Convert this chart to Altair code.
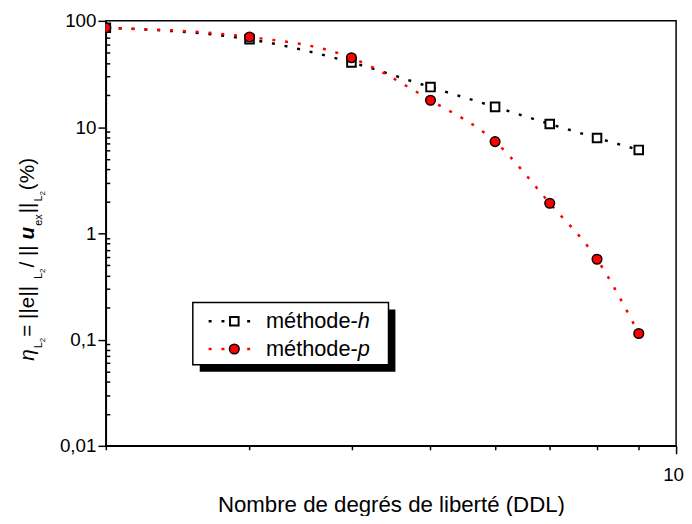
import altair as alt
import pandas as pd

# ---- data ----
ddl = [2, 3, 4, 5, 6, 7, 8, 9]
err_h = [86, 67, 40.6, 23.8, 15.5, 10.7, 7.9, 6.1]
err_p = [86, 70.5, 44.9, 17.9, 7.3, 1.92, 0.57, 0.114]
series = ["méthode-h", "méthode-p"]
x_ticks = [2, 3, 4, 5, 6, 7, 8, 9, 10]
y_major = [0.01, 0.1, 1, 10, 100]
y_minor = [0.02, 0.03, 0.04, 0.05, 0.06, 0.07, 0.08, 0.09,
           0.2, 0.3, 0.4, 0.5, 0.6, 0.7, 0.8, 0.9,
           2, 3, 4, 5, 6, 7, 8, 9,
           20, 30, 40, 50, 60, 70, 80, 90]
x_title = "Nombre de degrés de liberté (DDL)"

df = pd.DataFrame({
    "ddl": ddl * 2,
    "err": err_h + err_p,
    "serie": [series[0]] * len(ddl) + [series[1]] * len(ddl),
})

FONT = "Liberation Sans"
W, H = 577, 430
DASH = [3, 10]

xscale = alt.Scale(type="log", domain=[2, 10], nice=False)
yscale = alt.Scale(type="log", domain=[0.01, 100], nice=False)

xenc = alt.X(
    "ddl:Q", scale=xscale,
    axis=alt.Axis(
        values=x_ticks,
        labelExpr="datum.value == 10 ? '10' : ''",
        tickSize={"condition": {"test": "datum.value == 10", "value": 8}, "value": 4},
        labelFlush=False, labelOverlap=False,
        labelPadding=12, labelOffset=-3,
        title=x_title, titlePadding=9, titleFontSize=22.5,
        grid=False,
    ),
)
# main y axis: decades, outward ticks and labels
y_main = alt.Y(
    "err:Q", scale=yscale,
    axis=alt.Axis(
        orient="left", values=y_major,
        labelExpr="replace(toString(datum.value), '.', ',')",
        tickSize=8, labelOverlap=False, labelFlush=False, labelPadding=2,
        title=None, grid=False,
    ),
)
# second y axis: minor ticks pointing inside the plot
y_minor_ax = alt.Y(
    "err:Q", scale=yscale,
    axis=alt.Axis(
        orient="left", values=y_minor, offset=-4, tickSize=4, labels=False,
        domain=False, title=None, grid=False,
    ),
)
y_none = alt.Y("err:Q", scale=yscale, axis=None)

base = alt.Chart(df)
fh = alt.datum.serie == series[0]
fp = alt.datum.serie == series[1]

line_h = base.transform_filter(fh).mark_line(
    color="black", strokeDash=DASH, strokeWidth=2.5, interpolate="monotone", clip=True
).encode(x=xenc, y=y_main)
line_p = base.transform_filter(fp).mark_line(
    color="#ff0000", strokeDash=DASH, strokeWidth=2.5, interpolate="monotone", clip=True
).encode(x=xenc, y=y_none)
pts_h = base.transform_filter(fh).mark_point(
    shape="square", filled=True, fill="white", stroke="black", strokeWidth=2, size=75,
    opacity=1, clip=True).encode(x=xenc, y=y_none)
pts_p = base.transform_filter(fp).mark_point(
    shape="circle", filled=True, fill="#ff0000", stroke="black", strokeWidth=1.5, size=95,
    opacity=1, clip=True).encode(x=xenc, y=y_minor_ax)

one = alt.Data(values=[{}])

# ---- y axis title built from pieces (rotated, reading upward) ----
adv = {" ": 278, "=": 584, "|": 260, "e": 556, "/": 278, "(": 333, "%": 889, ")": 333,
       "L": 556, "2": 556, "x": 500, "η": 560, "u": 611}
MAIN, SUB, SUBSUB = 21, 11, 8
# (text, size, style, weight, shift below baseline, extra gap before)
pieces = [
    ("η", MAIN, "italic", "normal", 0, 0),
    ("L", SUB, "normal", "normal", 8, 1),
    ("2", SUBSUB, "normal", "normal", 11, 0),
    (" = ||e||", MAIN, "normal", "normal", 0, 1),
    ("L", SUB, "normal", "normal", 8, 1),
    ("2", SUBSUB, "normal", "normal", 11, 0),
    (" / ||", MAIN, "normal", "normal", 0, 1),
    ("u", MAIN, "italic", "bold", 0, 0),
    ("ex", SUB, "normal", "normal", 8, 1),
    ("||", MAIN, "normal", "normal", 0, 1),
    ("L", SUB, "normal", "normal", 8, 1),
    ("2", SUBSUB, "normal", "normal", 11, 0),
    (" (%)", MAIN, "normal", "normal", 0, 1),
]
PLOT_X0, PLOT_Y0 = 107, 18
XBASE = 34       # page x of the title baseline
YSTART = 362     # page y where the title begins (bottom)
title_layers = []
ycur = YSTART - PLOT_Y0
for txt, fs, style, weight, shift, gap in pieces:
    ycur -= gap
    title_layers.append(
        alt.Chart(one).mark_text(
            angle=270, align="left", baseline="alphabetic", font=FONT,
            fontSize=fs, fontStyle=style, fontWeight=weight, color="black",
        ).encode(x=alt.value(XBASE + shift - PLOT_X0), y=alt.value(ycur), text=alt.value(txt))
    )
    ycur -= sum(adv.get(c, 556) for c in txt) / 1000.0 * fs

# ---- legend box drawn by hand ----
LX0, LY0, LX1, LY1 = 88, 285, 286, 348
shadow = alt.Chart(one).mark_rect(color="black").encode(
    x=alt.value(LX0 + 7), x2=alt.value(LX1 + 7), y=alt.value(LY0 + 7), y2=alt.value(LY1 + 7))
box = alt.Chart(one).mark_rect(fill="white", stroke="black", strokeWidth=1.5).encode(
    x=alt.value(LX0), x2=alt.value(LX1), y=alt.value(LY0), y2=alt.value(LY1))

LFS = 22
legend_layers = [shadow, box]
rows = [(series[0], "black", "square", "white", 304), (series[1], "#ff0000", "circle", "#ff0000", 332)]
for name, col, shp, fillc, yy in rows:
    stem, suffix = name.split("-")
    legend_layers.append(alt.Chart(one).mark_rule(color=col, strokeDash=DASH, strokeWidth=2.5).encode(
        x=alt.value(104), x2=alt.value(155), y=alt.value(yy)))
    legend_layers.append(alt.Chart(one).mark_point(
        shape=shp, filled=True, fill=fillc, stroke="black",
        strokeWidth=2 if shp == "square" else 1.5, size=75 if shp == "square" else 95, opacity=1
    ).encode(x=alt.value(130), y=alt.value(yy)))
    legend_layers.append(alt.Chart(one).mark_text(
        align="left", baseline="middle", font=FONT, fontSize=LFS, color="black"
    ).encode(x=alt.value(162), y=alt.value(yy), text=alt.value(stem + "-")))
    stem_w = sum({"m": 833, "é": 556, "t": 278, "h": 556, "o": 556, "d": 556, "e": 556, "-": 333}.get(c, 556)
                 for c in stem + "-") / 1000.0 * LFS
    legend_layers.append(alt.Chart(one).mark_text(
        align="left", baseline="middle", font=FONT, fontSize=LFS, fontStyle="italic", color="black"
    ).encode(x=alt.value(162 + stem_w), y=alt.value(yy), text=alt.value(suffix)))

chart = alt.layer(
    line_h, line_p, pts_h, pts_p, *legend_layers, *title_layers
).resolve_axis(
    y="independent"
).properties(
    width=W, height=H,
    autosize=alt.AutoSizeParams(type="none"),
    padding={"left": 99, "top": 10, "right": 8, "bottom": 68},
    background="white",
).configure_view(
    stroke="black", strokeWidth=1.5
).configure_axis(
    domainColor="black", domainWidth=1.5, tickColor="black", tickWidth=1.5,
    labelFont=FONT, labelFontSize=19, labelColor="black",
    titleFont=FONT, titleFontSize=22, titleFontWeight="normal", titleColor="black",
)

chart.save("out.html", embed_options={"renderer": "svg", "actions": False})
